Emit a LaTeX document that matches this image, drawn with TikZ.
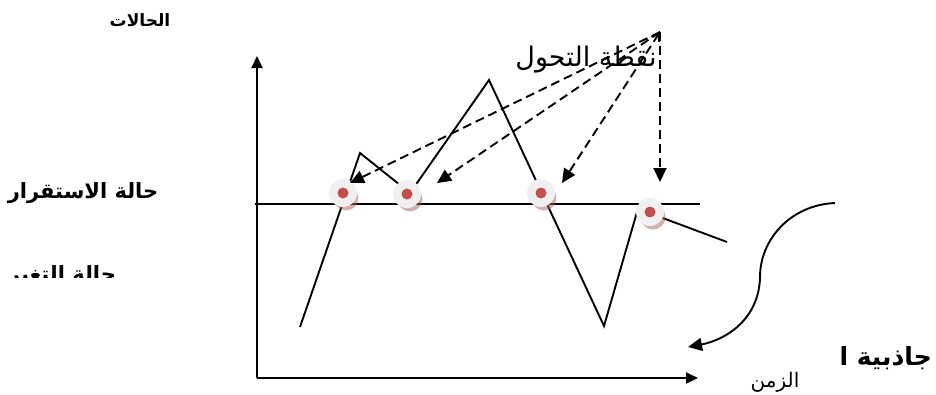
\documentclass[tikz,border=0pt]{standalone}
\usepackage{fontspec}
\newfontfamily\arabicfont[Script=Arabic]{DejaVu Sans}
\TeXXeTstate=1
\usetikzlibrary{arrows.meta}
\definecolor{dotred}{RGB}{196,78,76}
\definecolor{ringgray}{RGB}{240,240,240}
\definecolor{shadowbrown}{RGB}{170,100,100}

\begin{document}
\begin{tikzpicture}[x=1pt,y=-1pt,
    axis/.style={line width=2pt,-{Triangle[length=12pt,width=11pt]}},
    trace/.style={line width=1.9pt},
    hint/.style={line width=1.9pt,dash pattern=on 9pt off 5pt,-{Triangle[length=14pt,width=13pt]}},
    marker/.style={circle,fill=ringgray,minimum size=28pt,inner sep=0pt},
    lbl/.style={inner sep=0pt}]
        \useasboundingbox (0,0) rectangle (936,394);
        % axes and the stable level
        \coordinate (origin) at (257,378);
        \coordinate (ytop) at (257,56);
        \coordinate (xend) at (698,378);
        \draw[axis] (origin)--(ytop); \draw[axis] (origin)--(xend);
        \coordinate (lvlA) at (255,204); \coordinate (lvlB) at (700,204);
        \draw[line width=1.9pt] (lvlA)--(lvlB);
        % the course of the system
        \draw[trace] (300,327)--(360,153)--(410,193)--(489,80)--(604,326)--(637,212)--(652,214)--(727,242);
        % turning points
        \foreach \n/\p in {1/{(343,193)},2/{(407,194)},3/{(541,193)},4/{(650,212)}}{
            \fill[shadowbrown,opacity=.5] \p ++(3,5) circle (12.5);
            \node[marker] (m\n) at \p {};
            \fill[dotred] (m\n) circle (5.5);}
        % label and pointers
        \node[lbl,font=\arabicfont\fontsize{27}{30}\selectfont] (turn) at (586,60) {\beginR نقطة التحول\endR};
        \coordinate (apex) at (660,32);
        \draw[hint] (apex)--(350,183);
        \draw[hint] (apex)--(437,183);
        \draw[hint,{Straight Barb[length=7pt,width=9pt]}-{Triangle[length=14pt,width=13pt]}] (apex)--(562,183);
        \draw[hint] (apex)--(660,182);
        % attraction arrow
        \coordinate (pullA) at (835,203); \coordinate (pullB) at (688,347);
        \draw[line width=1.9pt,-{Triangle[length=14pt,width=13pt]}] (pullA) .. controls (790,205) and (760,240) .. (760,277)
            .. controls (759,320) and (725,340) .. (pullB);
        % texts
        \node[lbl,font=\arabicfont\bfseries\fontsize{17}{20}\selectfont] (states) at (140,20) {\beginR الحالات\endR};
        \node[lbl,font=\arabicfont\bfseries\fontsize{21}{25}\selectfont] (stable) at (83,193) {\beginR حالة الاستقرار\endR};
        \begin{scope}
            \clip (0,250) rectangle (250,277);
            \node[lbl,font=\arabicfont\bfseries\fontsize{21}{25}\selectfont] (change) at (62,276) {\beginR حالة التغير\endR};
        \end{scope}
        \node[lbl,font=\arabicfont\fontsize{20}{24}\selectfont] (time) at (775,382) {\beginR الزمن\endR};
        \node[lbl,anchor=east,font=\arabicfont\bfseries\fontsize{25}{29}\selectfont] (pull) at (932,358) {\beginR جاذبية ا\endR};
\end{tikzpicture}
\end{document}
